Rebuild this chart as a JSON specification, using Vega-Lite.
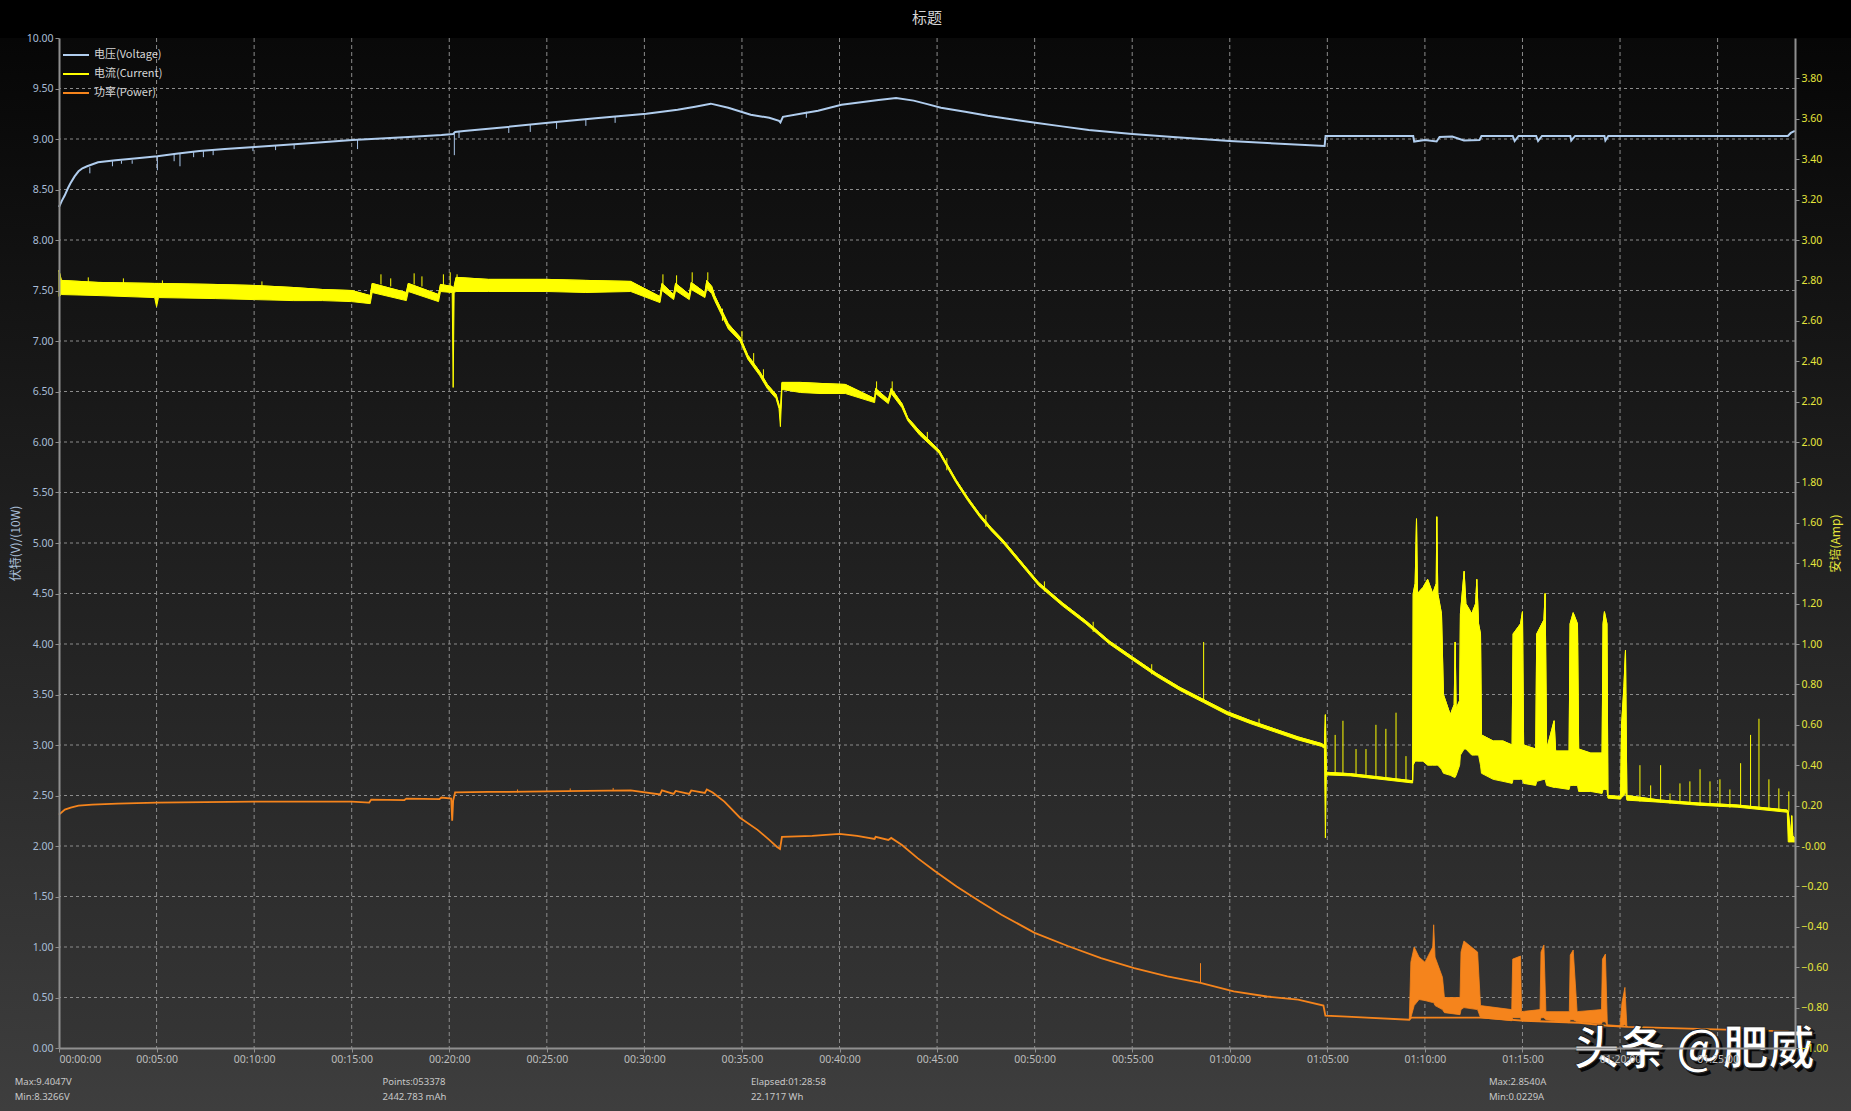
{
  "$schema": "https://vega.github.io/schema/vega-lite/v6.json",
  "width": 1736,
  "height": 1010,
  "autosize": {"type": "none"},
  "padding": {"left": 59, "top": 38, "right": 56, "bottom": 63},
  "background": "#000000",
  "title": {"text": "标题", "color": "#d4d4d4", "fontSize": 15, "font": "Noto Sans CJK SC", "fontWeight": "normal", "anchor": "middle", "frame": "group", "baseline": "middle", "offset": 0, "zindex": 1},
  "datasets": {
    "gx": [{"g":5},{"g":10},{"g":15},{"g":20},{"g":25},{"g":30},{"g":35},{"g":40},{"g":45},{"g":50},{"g":55},{"g":60},{"g":65},{"g":70},{"g":75},{"g":80},{"g":85}],
    "gy": [{"h":0.5},{"h":1},{"h":1.5},{"h":2},{"h":2.5},{"h":3},{"h":3.5},{"h":4},{"h":4.5},{"h":5},{"h":5.5},{"h":6},{"h":6.5},{"h":7},{"h":7.5},{"h":8},{"h":8.5},{"h":9},{"h":9.5}],
    "volt": [{"t":0,"v":8.327},{"t":0.15,"v":8.39},{"t":0.29,"v":8.44},{"t":0.45,"v":8.51},{"t":0.58,"v":8.56},{"t":0.8,"v":8.63},{"t":1.0,"v":8.68},{"t":1.2,"v":8.71},{"t":1.44,"v":8.73},{"t":2.0,"v":8.77},{"t":2.9,"v":8.79},{"t":4.0,"v":8.81},{"t":5.04,"v":8.83},{"t":6.0,"v":8.855},{"t":7.2,"v":8.88},{"t":8.5,"v":8.9},{"t":10.03,"v":8.92},{"t":11.5,"v":8.94},{"t":12.97,"v":8.96},{"t":15.04,"v":8.99},{"t":16.5,"v":9.005},{"t":17.9,"v":9.02},{"t":19.6,"v":9.04},{"t":20.2,"v":9.05},{"t":20.3,"v":9.07},{"t":20.75,"v":9.08},{"t":23,"v":9.12},{"t":25.07,"v":9.16},{"t":27.5,"v":9.205},{"t":30.1,"v":9.25},{"t":31.7,"v":9.29},{"t":32.6,"v":9.32},{"t":33.4,"v":9.35},{"t":34.3,"v":9.31},{"t":35.45,"v":9.24},{"t":36.4,"v":9.21},{"t":36.9,"v":9.18},{"t":36.97,"v":9.165},{"t":37.1,"v":9.22},{"t":38.0,"v":9.25},{"t":38.9,"v":9.28},{"t":40.1,"v":9.34},{"t":40.9,"v":9.36},{"t":42.0,"v":9.385},{"t":42.9,"v":9.405},{"t":43.8,"v":9.38},{"t":44.5,"v":9.345},{"t":45.2,"v":9.31},{"t":46.44,"v":9.27},{"t":47.6,"v":9.23},{"t":48.8,"v":9.195},{"t":50.04,"v":9.16},{"t":51.4,"v":9.125},{"t":52.77,"v":9.09},{"t":55.0,"v":9.05},{"t":57.09,"v":9.02},{"t":60.0,"v":8.98},{"t":62.84,"v":8.95},{"t":64.86,"v":8.93},{"t":64.91,"v":9.03},{"t":69.4,"v":9.03},{"t":69.45,"v":8.975},{"t":70.0,"v":8.99},{"t":70.6,"v":8.975},{"t":70.75,"v":9.02},{"t":71.4,"v":9.025},{"t":72.0,"v":8.985},{"t":72.8,"v":8.99},{"t":72.9,"v":9.03},{"t":74.5,"v":9.03},{"t":74.6,"v":8.98},{"t":74.8,"v":9.03},{"t":75.7,"v":9.03},{"t":75.8,"v":8.98},{"t":76.0,"v":9.03},{"t":77.45,"v":9.03},{"t":77.5,"v":8.985},{"t":77.7,"v":9.03},{"t":79.2,"v":9.03},{"t":79.25,"v":8.985},{"t":79.4,"v":9.03},{"t":88.6,"v":9.03},{"t":88.75,"v":9.06},{"t":88.96,"v":9.08}],
    "vspk": [{"t":1.58,"lo":8.66,"hi":8.72},{"t":2.74,"lo":8.73,"hi":8.78},{"t":3.2,"lo":8.755,"hi":8.785},{"t":3.75,"lo":8.755,"hi":8.79},{"t":5.04,"lo":8.69,"hi":8.83},{"t":5.9,"lo":8.78,"hi":8.85},{"t":6.2,"lo":8.73,"hi":8.86},{"t":6.9,"lo":8.82,"hi":8.87},{"t":7.4,"lo":8.82,"hi":8.88},{"t":7.9,"lo":8.84,"hi":8.89},{"t":9.94,"lo":8.88,"hi":8.92},{"t":11.1,"lo":8.89,"hi":8.935},{"t":12.05,"lo":8.9,"hi":8.95},{"t":15.3,"lo":8.9,"hi":8.99},{"t":20.26,"lo":8.84,"hi":9.06},{"t":20.5,"lo":9.01,"hi":9.08},{"t":23.05,"lo":9.06,"hi":9.12},{"t":24.15,"lo":9.07,"hi":9.14},{"t":25.5,"lo":9.1,"hi":9.17},{"t":27.0,"lo":9.13,"hi":9.2},{"t":28.5,"lo":9.16,"hi":9.22},{"t":38.3,"lo":9.21,"hi":9.27}],
    "pow": [{"t":0,"p":2.31},{"t":0.3,"p":2.36},{"t":0.6,"p":2.38},{"t":1.0,"p":2.4},{"t":1.7,"p":2.41},{"t":3.0,"p":2.42},{"t":5.0,"p":2.43},{"t":7.5,"p":2.435},{"t":10.0,"p":2.44},{"t":13.6,"p":2.44},{"t":15.0,"p":2.44},{"t":15.9,"p":2.43},{"t":16.0,"p":2.46},{"t":17.7,"p":2.455},{"t":17.8,"p":2.47},{"t":19.5,"p":2.465},{"t":19.6,"p":2.48},{"t":20.1,"p":2.47},{"t":20.15,"p":2.25},{"t":20.2,"p":2.45},{"t":20.3,"p":2.53},{"t":22,"p":2.535},{"t":25,"p":2.54},{"t":27,"p":2.545},{"t":29.3,"p":2.55},{"t":30.8,"p":2.51},{"t":30.9,"p":2.55},{"t":31.5,"p":2.515},{"t":31.6,"p":2.545},{"t":32.3,"p":2.515},{"t":32.4,"p":2.55},{"t":33.1,"p":2.525},{"t":33.2,"p":2.56},{"t":33.5,"p":2.53},{"t":34.1,"p":2.44},{"t":34.9,"p":2.28},{"t":35.8,"p":2.16},{"t":36.4,"p":2.06},{"t":36.8,"p":1.99},{"t":36.95,"p":1.97},{"t":37.05,"p":2.09},{"t":38.6,"p":2.1},{"t":40.0,"p":2.12},{"t":40.9,"p":2.1},{"t":41.8,"p":2.07},{"t":41.85,"p":2.09},{"t":42.5,"p":2.06},{"t":42.65,"p":2.08},{"t":43.2,"p":2.01},{"t":44.0,"p":1.88},{"t":44.9,"p":1.75},{"t":46.0,"p":1.6},{"t":47.2,"p":1.45},{"t":48.3,"p":1.32},{"t":50.0,"p":1.14},{"t":51.7,"p":1.01},{"t":53.4,"p":0.89},{"t":55.1,"p":0.79},{"t":56.8,"p":0.71},{"t":58.5,"p":0.645},{"t":60.2,"p":0.56},{"t":61.9,"p":0.51},{"t":63.5,"p":0.48},{"t":64.8,"p":0.42},{"t":64.9,"p":0.32},{"t":66,"p":0.31},{"t":69.2,"p":0.28},{"t":69.3,"p":0.3},{"t":72.9,"p":0.3},{"t":75.1,"p":0.27},{"t":77.9,"p":0.25},{"t":79.4,"p":0.22},{"t":80.4,"p":0.21},{"t":84,"p":0.19},{"t":88.6,"p":0.165},{"t":88.7,"p":0.04},{"t":88.96,"p":0.03}],
    "pband": [{"t":69.2,"lo":0.28,"hi":0.28},{"t":69.28,"lo":0.3,"hi":0.85},{"t":69.45,"lo":0.42,"hi":1.0},{"t":69.7,"lo":0.48,"hi":0.9},{"t":70.0,"lo":0.47,"hi":0.85},{"t":70.4,"lo":0.45,"hi":1.0},{"t":70.45,"lo":0.45,"hi":1.22},{"t":70.52,"lo":0.42,"hi":0.9},{"t":70.9,"lo":0.38,"hi":0.7},{"t":71.0,"lo":0.35,"hi":0.5},{"t":71.8,"lo":0.33,"hi":0.5},{"t":71.85,"lo":0.38,"hi":0.95},{"t":72.0,"lo":0.4,"hi":1.06},{"t":72.7,"lo":0.38,"hi":0.95},{"t":72.85,"lo":0.3,"hi":0.42},{"t":74.45,"lo":0.27,"hi":0.38},{"t":74.5,"lo":0.3,"hi":0.88},{"t":74.9,"lo":0.3,"hi":0.91},{"t":74.95,"lo":0.27,"hi":0.36},{"t":75.9,"lo":0.27,"hi":0.38},{"t":75.95,"lo":0.3,"hi":0.95},{"t":76.1,"lo":0.3,"hi":1.02},{"t":76.2,"lo":0.28,"hi":0.36},{"t":77.4,"lo":0.25,"hi":0.36},{"t":77.45,"lo":0.28,"hi":0.92},{"t":77.6,"lo":0.28,"hi":0.97},{"t":77.8,"lo":0.26,"hi":0.36},{"t":79.05,"lo":0.24,"hi":0.38},{"t":79.1,"lo":0.26,"hi":0.88},{"t":79.25,"lo":0.26,"hi":0.93},{"t":79.35,"lo":0.22,"hi":0.23},{"t":80.0,"lo":0.21,"hi":0.22},{"t":80.1,"lo":0.22,"hi":0.45},{"t":80.25,"lo":0.23,"hi":0.6},{"t":80.35,"lo":0.21,"hi":0.21}],
    "pspk": [{"t":58.5,"lo":0.645,"hi":0.84},{"t":23.5,"lo":2.53,"hi":2.56},{"t":26.2,"lo":2.54,"hi":2.57},{"t":28.4,"lo":2.545,"hi":2.575}],
    "cur": [{"t":0,"lo":2.72,"hi":2.85},{"t":0.12,"lo":2.73,"hi":2.8},{"t":2,"lo":2.725,"hi":2.79},{"t":4.9,"lo":2.715,"hi":2.785},{"t":5.0,"lo":2.67,"hi":2.785},{"t":5.1,"lo":2.715,"hi":2.785},{"t":8,"lo":2.71,"hi":2.78},{"t":10,"lo":2.705,"hi":2.775},{"t":12,"lo":2.7,"hi":2.765},{"t":13.5,"lo":2.7,"hi":2.755},{"t":15,"lo":2.695,"hi":2.75},{"t":15.95,"lo":2.685,"hi":2.725},{"t":16.05,"lo":2.74,"hi":2.785},{"t":17.8,"lo":2.7,"hi":2.74},{"t":17.9,"lo":2.745,"hi":2.785},{"t":19.45,"lo":2.695,"hi":2.73},{"t":19.55,"lo":2.745,"hi":2.78},{"t":20.15,"lo":2.74,"hi":2.77},{"t":20.2,"lo":2.27,"hi":2.76},{"t":20.25,"lo":2.74,"hi":2.77},{"t":20.35,"lo":2.745,"hi":2.815},{"t":22,"lo":2.745,"hi":2.805},{"t":25,"lo":2.745,"hi":2.805},{"t":27,"lo":2.74,"hi":2.8},{"t":29.3,"lo":2.745,"hi":2.795},{"t":30.8,"lo":2.69,"hi":2.72},{"t":30.9,"lo":2.75,"hi":2.785},{"t":31.5,"lo":2.705,"hi":2.73},{"t":31.6,"lo":2.75,"hi":2.785},{"t":32.3,"lo":2.705,"hi":2.73},{"t":32.4,"lo":2.755,"hi":2.79},{"t":33.1,"lo":2.715,"hi":2.74},{"t":33.2,"lo":2.76,"hi":2.8},{"t":33.45,"lo":2.735,"hi":2.77},{"t":33.6,"lo":2.7,"hi":2.725},{"t":34.3,"lo":2.56,"hi":2.585},{"t":34.9,"lo":2.5,"hi":2.52},{"t":35.3,"lo":2.41,"hi":2.43},{"t":35.9,"lo":2.33,"hi":2.35},{"t":36.3,"lo":2.265,"hi":2.285},{"t":36.75,"lo":2.215,"hi":2.235},{"t":36.9,"lo":2.165,"hi":2.185},{"t":36.97,"lo":2.076,"hi":2.15},{"t":37.05,"lo":2.26,"hi":2.295},{"t":38,"lo":2.245,"hi":2.295},{"t":39,"lo":2.24,"hi":2.29},{"t":40.3,"lo":2.24,"hi":2.285},{"t":41.8,"lo":2.195,"hi":2.215},{"t":41.85,"lo":2.24,"hi":2.265},{"t":42.5,"lo":2.19,"hi":2.21},{"t":42.65,"lo":2.24,"hi":2.265},{"t":43.2,"lo":2.17,"hi":2.19},{"t":43.5,"lo":2.105,"hi":2.12},{"t":44.1,"lo":2.035,"hi":2.055},{"t":45.1,"lo":1.945,"hi":1.96},{"t":45.96,"lo":1.8,"hi":1.815},{"t":46.57,"lo":1.71,"hi":1.725},{"t":47.17,"lo":1.63,"hi":1.645},{"t":47.78,"lo":1.56,"hi":1.575},{"t":48.38,"lo":1.5,"hi":1.515},{"t":49.59,"lo":1.36,"hi":1.375},{"t":50.2,"lo":1.29,"hi":1.305},{"t":51.41,"lo":1.19,"hi":1.205},{"t":52.62,"lo":1.1,"hi":1.115},{"t":53.83,"lo":1.0,"hi":1.015},{"t":55.03,"lo":0.92,"hi":0.935},{"t":56.24,"lo":0.84,"hi":0.855},{"t":57.45,"lo":0.77,"hi":0.785},{"t":58.66,"lo":0.71,"hi":0.725},{"t":59.87,"lo":0.65,"hi":0.665},{"t":61.08,"lo":0.605,"hi":0.62},{"t":62.29,"lo":0.565,"hi":0.58},{"t":63.5,"lo":0.525,"hi":0.54},{"t":64.71,"lo":0.493,"hi":0.507},{"t":64.85,"lo":0.483,"hi":0.497},{"t":64.9,"lo":0.04,"hi":0.65},{"t":64.95,"lo":0.352,"hi":0.365},{"t":66.2,"lo":0.347,"hi":0.358},{"t":69.37,"lo":0.312,"hi":0.323},{"t":69.4,"lo":0.4,"hi":1.25},{"t":69.5,"lo":0.42,"hi":1.3},{"t":69.57,"lo":0.42,"hi":1.62},{"t":69.62,"lo":0.42,"hi":1.25},{"t":69.9,"lo":0.42,"hi":1.28},{"t":70.14,"lo":0.4,"hi":1.32},{"t":70.4,"lo":0.4,"hi":1.25},{"t":70.58,"lo":0.4,"hi":1.3},{"t":70.61,"lo":0.4,"hi":1.63},{"t":70.66,"lo":0.4,"hi":1.25},{"t":70.85,"lo":0.38,"hi":1.15},{"t":70.95,"lo":0.36,"hi":0.75},{"t":71.3,"lo":0.35,"hi":0.65},{"t":71.5,"lo":0.34,"hi":0.7},{"t":71.55,"lo":0.34,"hi":1.01},{"t":71.6,"lo":0.35,"hi":0.68},{"t":71.78,"lo":0.4,"hi":0.72},{"t":71.82,"lo":0.45,"hi":1.15},{"t":72.01,"lo":0.48,"hi":1.36},{"t":72.1,"lo":0.48,"hi":1.2},{"t":72.4,"lo":0.45,"hi":1.15},{"t":72.6,"lo":0.45,"hi":1.2},{"t":72.66,"lo":0.45,"hi":1.32},{"t":72.75,"lo":0.45,"hi":1.1},{"t":72.85,"lo":0.4,"hi":1.05},{"t":72.9,"lo":0.36,"hi":0.55},{"t":73.5,"lo":0.33,"hi":0.52},{"t":74.0,"lo":0.32,"hi":0.52},{"t":74.47,"lo":0.31,"hi":0.5},{"t":74.52,"lo":0.33,"hi":1.05},{"t":74.9,"lo":0.33,"hi":1.1},{"t":75.0,"lo":0.33,"hi":1.16},{"t":75.06,"lo":0.31,"hi":0.5},{"t":75.68,"lo":0.3,"hi":0.48},{"t":75.73,"lo":0.32,"hi":1.05},{"t":76.1,"lo":0.33,"hi":1.12},{"t":76.16,"lo":0.33,"hi":1.25},{"t":76.24,"lo":0.3,"hi":0.48},{"t":76.62,"lo":0.29,"hi":0.62},{"t":76.7,"lo":0.29,"hi":0.47},{"t":77.39,"lo":0.28,"hi":0.47},{"t":77.44,"lo":0.3,"hi":1.1},{"t":77.6,"lo":0.3,"hi":1.155},{"t":77.82,"lo":0.3,"hi":1.1},{"t":77.88,"lo":0.27,"hi":0.48},{"t":78.5,"lo":0.27,"hi":0.46},{"t":79.08,"lo":0.26,"hi":0.46},{"t":79.13,"lo":0.28,"hi":1.1},{"t":79.2,"lo":0.28,"hi":1.16},{"t":79.33,"lo":0.28,"hi":1.1},{"t":79.38,"lo":0.237,"hi":0.25},{"t":80.03,"lo":0.232,"hi":0.245},{"t":80.08,"lo":0.24,"hi":0.6},{"t":80.2,"lo":0.25,"hi":0.79},{"t":80.28,"lo":0.27,"hi":0.97},{"t":80.35,"lo":0.227,"hi":0.25},{"t":82,"lo":0.217,"hi":0.228},{"t":84,"lo":0.202,"hi":0.213},{"t":86,"lo":0.192,"hi":0.203},{"t":88.57,"lo":0.167,"hi":0.178},{"t":88.62,"lo":0.02,"hi":0.17},{"t":88.75,"lo":0.02,"hi":0.05},{"t":88.8,"lo":0.02,"hi":0.15},{"t":88.85,"lo":0.02,"hi":0.05},{"t":88.96,"lo":0.02,"hi":0.04}],
    "cspk": [{"t":1.5,"lo":2.78,"hi":2.815},{"t":3.3,"lo":2.78,"hi":2.81},{"t":5.3,"lo":2.77,"hi":2.8},{"t":10.4,"lo":2.76,"hi":2.795},{"t":16.5,"lo":2.78,"hi":2.83},{"t":17.0,"lo":2.77,"hi":2.81},{"t":18.2,"lo":2.78,"hi":2.835},{"t":18.6,"lo":2.77,"hi":2.82},{"t":19.7,"lo":2.77,"hi":2.83},{"t":20.05,"lo":2.76,"hi":2.84},{"t":20.4,"lo":2.8,"hi":2.83},{"t":30.95,"lo":2.78,"hi":2.83},{"t":31.65,"lo":2.78,"hi":2.825},{"t":32.45,"lo":2.79,"hi":2.84},{"t":33.25,"lo":2.8,"hi":2.84},{"t":34.0,"lo":2.6,"hi":2.66},{"t":35.0,"lo":2.48,"hi":2.55},{"t":35.6,"lo":2.38,"hi":2.44},{"t":36.1,"lo":2.3,"hi":2.36},{"t":41.9,"lo":2.26,"hi":2.3},{"t":42.7,"lo":2.26,"hi":2.3},{"t":44.5,"lo":2.0,"hi":2.05},{"t":45.5,"lo":1.86,"hi":1.92},{"t":47.5,"lo":1.58,"hi":1.64},{"t":50.5,"lo":1.26,"hi":1.31},{"t":53,"lo":1.06,"hi":1.11},{"t":56,"lo":0.85,"hi":0.9},{"t":58.66,"lo":0.72,"hi":1.01},{"t":61.5,"lo":0.59,"hi":0.63},{"t":65.4,"lo":0.355,"hi":0.55},{"t":65.8,"lo":0.355,"hi":0.62},{"t":66.47,"lo":0.35,"hi":0.48},{"t":66.98,"lo":0.345,"hi":0.48},{"t":67.49,"lo":0.34,"hi":0.6},{"t":68.0,"lo":0.335,"hi":0.58},{"t":68.52,"lo":0.33,"hi":0.66},{"t":69.03,"lo":0.32,"hi":0.445},{"t":81.02,"lo":0.22,"hi":0.4},{"t":81.57,"lo":0.22,"hi":0.3},{"t":82.08,"lo":0.215,"hi":0.4},{"t":82.56,"lo":0.21,"hi":0.26},{"t":83.07,"lo":0.21,"hi":0.31},{"t":83.58,"lo":0.205,"hi":0.32},{"t":84.1,"lo":0.2,"hi":0.38},{"t":84.61,"lo":0.2,"hi":0.32},{"t":85.12,"lo":0.195,"hi":0.33},{"t":85.63,"lo":0.19,"hi":0.28},{"t":86.18,"lo":0.19,"hi":0.41},{"t":86.69,"lo":0.185,"hi":0.55},{"t":87.12,"lo":0.18,"hi":0.63},{"t":87.63,"lo":0.18,"hi":0.33},{"t":88.14,"lo":0.175,"hi":0.285},{"t":88.65,"lo":0.17,"hi":0.27}]
  },
  "layer": [
    {
      "layer": [
        {
          "data": {"values": [{"k": 1}]},
          "mark": {"type": "rect", "fill": {"gradient": "linear", "x1": 0, "y1": 0, "x2": 0, "y2": 1, "stops": [{"offset": 0, "color": "#060606"}, {"offset": 1, "color": "#3e3e3e"}]}},
          "encoding": {
            "x": {"datum": -3.03, "type": "quantitative", "scale": {"domain": [0, 88.9667], "nice": false, "zero": false},
              "axis": {"zindex": 1, "values": [0,5,10,15,20,25,30,35,40,45,50,55,60,65,70,75,80,85], "title": null, "labelColor": "#bdbdbd", "labelExpr": "(datum.value < 60 ? '00' : '01') + ':' + (datum.value % 60 < 10 ? '0' : '') + (datum.value % 60) + ':00'"}},
            "x2": {"datum": 91.84},
            "y": {"datum": 10, "type": "quantitative", "scale": {"domain": [0, 10], "nice": false, "zero": false},
              "axis": {"zindex": 1, "orient": "left", "values": [0,0.5,1,1.5,2,2.5,3,3.5,4,4.5,5,5.5,6,6.5,7,7.5,8,8.5,9,9.5,10], "format": ".2f", "title": "伏特(V)/(10W)", "labelColor": "#a9bdd6", "titleColor": "#a9bdd6", "titlePadding": 4}},
            "y2": {"datum": -0.624}
          }
        },
        {
          "data": {"values": [{"k": 1}]},
          "mark": {"type": "rect", "fill": {"gradient": "linear", "x1": 0, "y1": 0, "x2": 0, "y2": 1, "stops": [{"offset": 0, "color": "#090909"}, {"offset": 1, "color": "#353535"}]}},
          "encoding": {
            "x": {"datum": 0, "type": "quantitative"},
            "x2": {"datum": 88.9667},
            "y": {"datum": 10, "type": "quantitative"},
            "y2": {"datum": 0}
          }
        },
        {
          "data": {"name": "gx"},
          "mark": {"type": "rule", "color": "#8c8c8c", "strokeWidth": 1, "strokeDash": [4, 3]},
          "encoding": {
            "x": {"field": "g", "type": "quantitative"}
          }
        },
        {
          "data": {"name": "gy"},
          "mark": {"type": "rule", "color": "#8c8c8c", "strokeWidth": 1, "strokeDash": [3, 3]},
          "encoding": {
            "y": {"field": "h", "type": "quantitative"}
          }
        },
        {
          "data": {"name": "vspk"},
          "mark": {"type": "rule", "color": "#a9c6ea", "strokeWidth": 1},
          "encoding": {
            "x": {"field": "t", "type": "quantitative"},
            "y": {"field": "lo", "type": "quantitative"},
            "y2": {"field": "hi"}
          }
        },
        {
          "data": {"name": "volt"},
          "mark": {"type": "line", "strokeWidth": 2},
          "encoding": {
            "x": {"field": "t", "type": "quantitative"},
            "y": {"field": "v", "type": "quantitative"},
            "color": {"datum": "电压(Voltage)", "type": "nominal",
              "scale": {"domain": ["电压(Voltage)", "电流(Current)", "功率(Power)"], "range": ["#b0cdee", "#ffff00", "#f5841c"]},
              "legend": {"title": null, "orient": "top-left", "offset": 3, "padding": 0}}
          }
        },
        {
          "data": {"name": "pband"},
          "mark": {"type": "area", "color": "#f5841c", "stroke": "#f5841c", "strokeWidth": 0.8},
          "encoding": {
            "x": {"field": "t", "type": "quantitative"},
            "y": {"field": "lo", "type": "quantitative"},
            "y2": {"field": "hi"}
          }
        },
        {
          "data": {"name": "pspk"},
          "mark": {"type": "rule", "color": "#f5841c", "strokeWidth": 1},
          "encoding": {
            "x": {"field": "t", "type": "quantitative"},
            "y": {"field": "lo", "type": "quantitative"},
            "y2": {"field": "hi"}
          }
        },
        {
          "data": {"name": "pow"},
          "mark": {"type": "line", "strokeWidth": 1.8},
          "encoding": {
            "x": {"field": "t", "type": "quantitative"},
            "y": {"field": "p", "type": "quantitative"},
            "color": {"datum": "功率(Power)", "type": "nominal",
              "scale": {"domain": ["电压(Voltage)", "电流(Current)", "功率(Power)"], "range": ["#b0cdee", "#ffff00", "#f5841c"]},
              "legend": {"title": null, "orient": "top-left", "offset": 3, "padding": 0}}
          }
        },
        {
          "data": {"values": [{"label": "Max:9.4047V\nMin:8.3266V"}]},
          "mark": {"type": "text", "align": "left", "baseline": "top", "lineBreak": "\n", "lineHeight": 15, "font": "Noto Sans", "fontSize": 9.5, "color": "#c8c8c8"},
          "encoding": {
            "x": {"datum": -2.27, "type": "quantitative"},
            "y": {"datum": -0.287, "type": "quantitative"},
            "text": {"field": "label"}
          }
        },
        {
          "data": {"values": [{"label": "Points:053378\n2442.783 mAh"}]},
          "mark": {"type": "text", "align": "left", "baseline": "top", "lineBreak": "\n", "lineHeight": 15, "font": "Noto Sans", "fontSize": 9.5, "color": "#c8c8c8"},
          "encoding": {
            "x": {"datum": 16.58, "type": "quantitative"},
            "y": {"datum": -0.287, "type": "quantitative"},
            "text": {"field": "label"}
          }
        },
        {
          "data": {"values": [{"label": "Elapsed:01:28:58\n22.1717 Wh"}]},
          "mark": {"type": "text", "align": "left", "baseline": "top", "lineBreak": "\n", "lineHeight": 15, "font": "Noto Sans", "fontSize": 9.5, "color": "#c8c8c8"},
          "encoding": {
            "x": {"datum": 35.46, "type": "quantitative"},
            "y": {"datum": -0.287, "type": "quantitative"},
            "text": {"field": "label"}
          }
        },
        {
          "data": {"values": [{"label": "Max:2.8540A\nMin:0.0229A"}]},
          "mark": {"type": "text", "align": "left", "baseline": "top", "lineBreak": "\n", "lineHeight": 15, "font": "Noto Sans", "fontSize": 9.5, "color": "#c8c8c8"},
          "encoding": {
            "x": {"datum": 73.28, "type": "quantitative"},
            "y": {"datum": -0.287, "type": "quantitative"},
            "text": {"field": "label"}
          }
        },
        {
          "data": {"values": [{"label": "头条 @肥威"}]},
          "mark": {"type": "text", "align": "center", "baseline": "middle", "font": "Noto Sans CJK SC", "fontSize": 46, "fontWeight": "bold", "color": "#000000", "opacity": 0.85, "dx": 3, "dy": 3},
          "encoding": {
            "x": {"datum": 83.79, "type": "quantitative"},
            "y": {"datum": -0.02, "type": "quantitative"},
            "text": {"field": "label"}
          }
        },
        {
          "data": {"values": [{"label": "头条 @肥威"}]},
          "mark": {"type": "text", "align": "center", "baseline": "middle", "font": "Noto Sans CJK SC", "fontSize": 46, "fontWeight": "bold", "color": "#ffffff", "stroke": "#222222", "strokeWidth": 1},
          "encoding": {
            "x": {"datum": 83.79, "type": "quantitative"},
            "y": {"datum": -0.02, "type": "quantitative"},
            "text": {"field": "label"}
          }
        }
      ]
    },
    {
      "layer": [
        {
          "data": {"name": "cur"},
          "mark": {"type": "area", "color": "#ffff00", "stroke": "#ffff00", "strokeWidth": 1},
          "encoding": {
            "x": {"field": "t", "type": "quantitative"},
            "y": {"field": "lo", "type": "quantitative", "scale": {"domain": [-1, 4], "nice": false, "zero": false},
              "axis": {"zindex": 1, "orient": "right", "values": [-1,-0.8,-0.6,-0.4,-0.2,0,0.2,0.4,0.6,0.8,1,1.2,1.4,1.6,1.8,2,2.2,2.4,2.6,2.8,3,3.2,3.4,3.6,3.8], "labelExpr": "datum.value == 0 ? '-0.00' : format(datum.value, '.2f')", "title": "安培(Amp)", "titleAngle": -90, "labelColor": "#e6e63c", "titleColor": "#e6e63c", "titlePadding": 15}},
            "y2": {"field": "hi"}
          }
        },
        {
          "data": {"name": "cspk"},
          "mark": {"type": "rule", "color": "#ffff00", "strokeWidth": 1},
          "encoding": {
            "x": {"field": "t", "type": "quantitative"},
            "y": {"field": "lo", "type": "quantitative"},
            "y2": {"field": "hi"}
          }
        },
        {
          "data": {"name": "cur"},
          "mark": {"type": "line", "strokeWidth": 1},
          "encoding": {
            "x": {"field": "t", "type": "quantitative"},
            "y": {"field": "hi", "type": "quantitative"},
            "color": {"datum": "电流(Current)", "type": "nominal",
              "scale": {"domain": ["电压(Voltage)", "电流(Current)", "功率(Power)"], "range": ["#b0cdee", "#ffff00", "#f5841c"]},
              "legend": {"title": null, "orient": "top-left", "offset": 3, "padding": 0}}
          }
        }
      ]
    }
  ],
  "resolve": {"scale": {"y": "independent"}, "axis": {"y": "independent"}},
  "config": {
    "view": {"stroke": null},
    "axis": {"grid": false, "domainColor": "#8f8f8f", "domainWidth": 2, "tickColor": "#8f8f8f", "tickSize": 4, "tickWidth": 1, "labelFont": "Noto Sans", "labelFontSize": 10.5, "labelPadding": 2, "titleFont": "Noto Sans CJK SC", "titleFontWeight": "normal", "titleFontSize": 12},
    "legend": {"zindex": 1, "symbolType": "stroke", "symbolSize": 676, "symbolStrokeWidth": 2, "labelColor": "#d6d6d6", "labelFont": "Noto Sans CJK SC", "labelFontSize": 11, "rowPadding": 0, "labelOffset": 4}
  }
}
